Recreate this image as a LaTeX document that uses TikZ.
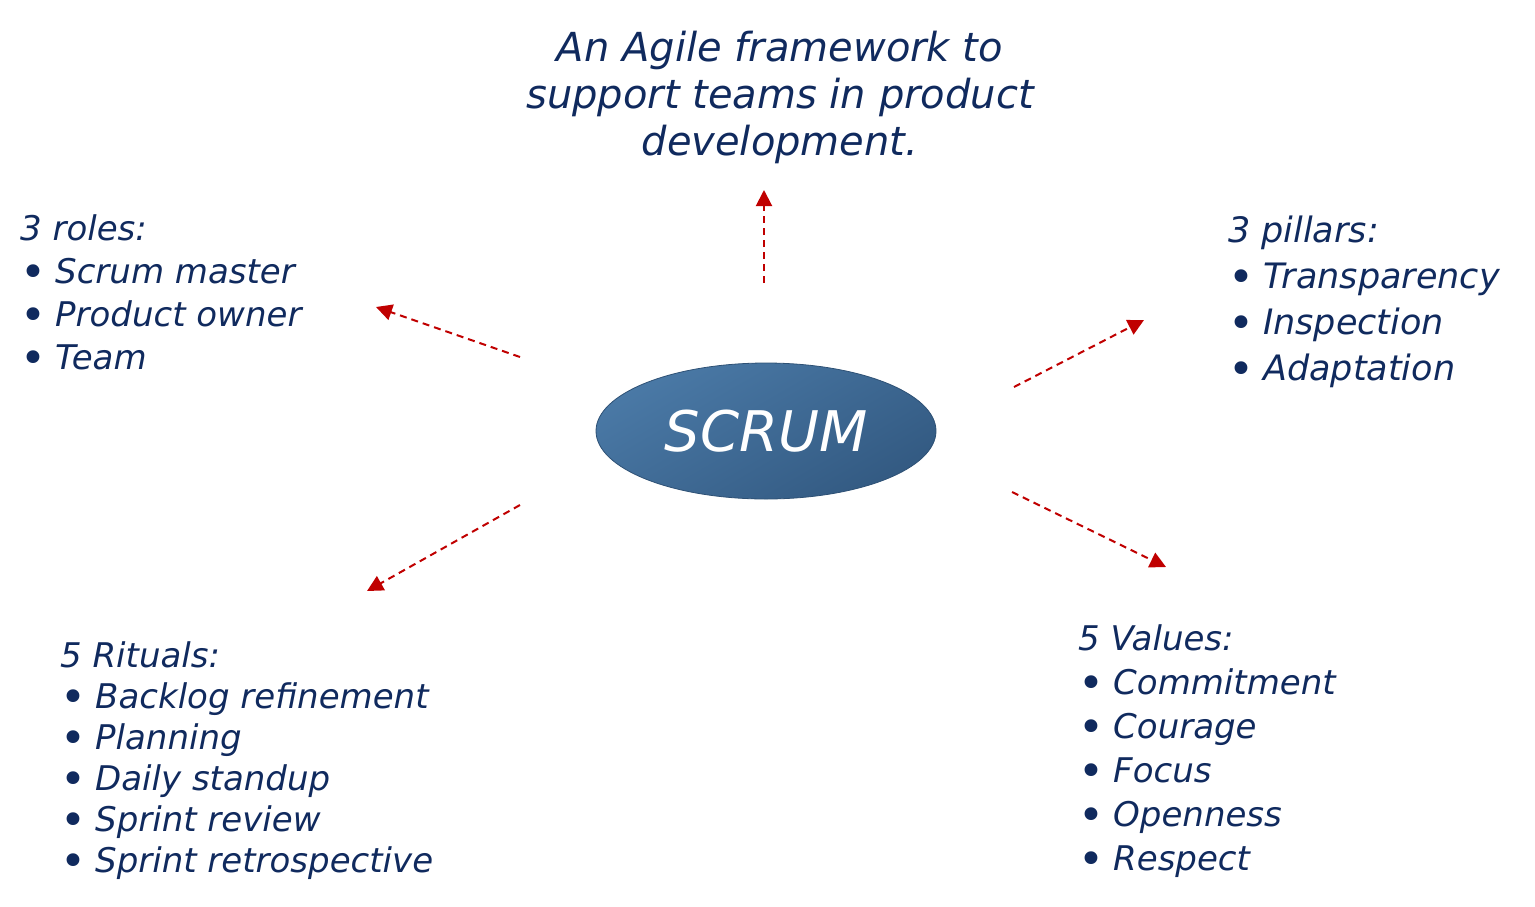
\documentclass[tikz,border=0pt]{standalone}
\usepackage{fontspec}
\setmainfont{DejaVu Sans}
\usetikzlibrary{shapes.geometric,arrows.meta}
\definecolor{inkblue}{HTML}{102A5E}
\definecolor{arrowred}{HTML}{C00000}
\definecolor{ovaltop}{HTML}{4A79A6}
\definecolor{ovalbot}{HTML}{335A82}
\newcommand{\itm}{\makebox[35pt][l]{\raisebox{-4pt}{\upshape\fontsize{44}{44}\selectfont\textbullet}}}

\begin{document}
\begin{tikzpicture}[x=1pt, y=-1pt,
    textStyle/.style={text=inkblue, font=\fontsize{34}{43}\selectfont\itshape, align=left, anchor=base west, inner sep=0},
    ovalStyle/.style={ellipse, draw=ovalbot!90!black, line width=0.8pt, top color=ovaltop, bottom color=ovalbot, shading angle=30,
        minimum width=340, minimum height=136, text=white, font=\fontsize{56}{60}\selectfont\itshape},
    arrowStyle/.style={draw=arrowred, line width=2pt, dash pattern=on 7pt off 5pt, -{Triangle[length=16pt,width=16pt]}}]
    \useasboundingbox (0,0) rectangle (1535,906);

    \node[ovalStyle] (scrum) at (766,431) {SCRUM};

    % base anchor sits on the last line of each block
    \node[textStyle, align=center, anchor=base, font=\fontsize{40}{47}\selectfont\itshape] (aim) at (780,155)
        {An Agile framework to\\support teams in product\\development.};
    \node[textStyle] (roles) at (20,369) {3 roles:\\\itm Scrum master\\\itm Product owner\\\itm Team};
    \node[textStyle, font=\fontsize{35}{46}\selectfont\itshape] (pillars) at (1228,380)
        {3 pillars:\\\itm Transparency\\\itm Inspection\\\itm Adaptation};
    \node[textStyle, font=\fontsize{34}{41}\selectfont\itshape] (rituals) at (60,872)
        {5 Rituals:\\\itm Backlog refinement\\\itm Planning\\\itm Daily standup\\\itm Sprint review\\\itm Sprint retrospective};
    \node[textStyle, font=\fontsize{34}{44}\selectfont\itshape] (values) at (1078,870)
        {5 Values:\\\itm Commitment\\\itm Courage\\\itm Focus\\\itm Openness\\\itm Respect};

    \coordinate (upTail) at (764,283);    \coordinate (upHead) at (764,190);
    \coordinate (nwTail) at (520,357);    \coordinate (nwHead) at (376,307);
    \coordinate (neTail) at (1014,387);   \coordinate (neHead) at (1144,320);
    \coordinate (swTail) at (520,505);    \coordinate (swHead) at (367,591);
    \coordinate (seTail) at (1012,492);   \coordinate (seHead) at (1166,567);

    \draw[arrowStyle] (upTail) -- (upHead);
    \draw[arrowStyle] (nwTail) -- (nwHead);
    \draw[arrowStyle] (neTail) -- (neHead);
    \draw[arrowStyle] (swTail) -- (swHead);
    \draw[arrowStyle] (seTail) -- (seHead);
\end{tikzpicture}
\end{document}
